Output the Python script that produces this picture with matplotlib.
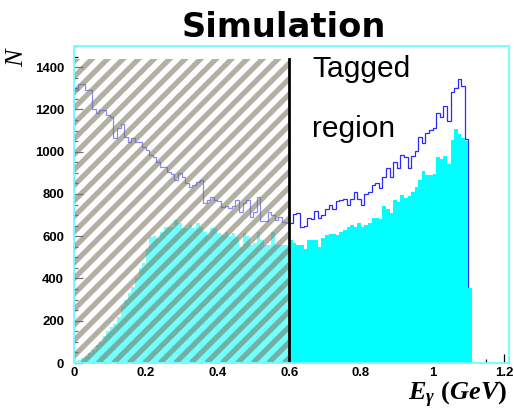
import numpy as np
import matplotlib
matplotlib.use("Agg")
import matplotlib.pyplot as plt
import matplotlib.transforms as mtransforms
from matplotlib.patches import Rectangle
from matplotlib.ticker import MultipleLocator, FuncFormatter

plt.rcParams['mathtext.fontset'] = 'custom'
plt.rcParams['mathtext.it'] = 'Liberation Serif:italic:bold'
plt.rcParams['mathtext.rm'] = 'Liberation Serif:bold'
plt.rcParams['mathtext.bf'] = 'Liberation Serif:bold'

# Todos los fotones (contorno azul), bins de 0.01 GeV de 0 a 1.10
todos = [1291, 1319, 1319, 1294, 1294, 1204, 1181, 1199, 1199, 1173,
         1162, 1063, 1110, 1129, 1070, 1047, 1063, 1047, 1047, 1020,
         1010, 985, 976, 950, 928, 928, 905, 894, 865, 898,
         880, 850, 831, 840, 855, 865, 755, 771, 784, 771,
         765, 740, 745, 734, 745, 771, 716, 755, 771, 692,
         716, 787, 672, 672, 715, 699, 676, 692, 668, 662,
         661, 703, 711, 645, 650, 684, 680, 720, 684, 700,
         730, 747, 730, 768, 770, 775, 750, 775, 810, 775,
         750, 798, 810, 841, 850, 826, 881, 925, 881, 952,
         921, 984, 976, 921, 979, 1004, 1070, 1039, 1086, 1102,
         1110, 1181, 1165, 1215, 1144, 1283, 1299, 1346, 1310, 1058]

# Fotones etiquetados (relleno cian), bins de 0.01 GeV de 0 a 1.11
etiquetados = [8, 15, 25, 35, 47, 60, 85, 100, 130, 150,
               172, 185, 219, 270, 300, 331, 360, 402, 449, 474,
               538, 594, 600, 590, 621, 642, 642, 645, 676, 663,
               637, 637, 653, 640, 663, 642, 620, 605, 637, 637,
               616, 605, 621, 600, 616, 594, 550, 616, 600, 558,
               570, 621, 582, 558, 558, 621, 558, 558, 558, 558,
               582, 569, 558, 558, 540, 582, 582, 582, 550, 590,
               605, 610, 610, 605, 621, 629, 642, 653, 645, 661,
               645, 655, 661, 684, 684, 680, 742, 731, 711, 771,
               763, 794, 779, 790, 810, 834, 865, 909, 889, 889,
               894, 973, 963, 979, 941, 1055, 1105, 1083, 1067, 1050, 353]

ancho_bin = 0.01
corte = 0.6          # limite inferior de la region etiquetada (GeV)
tope_rayado = 1440   # altura de la zona rayada y de la linea negra
x_ticks = [0, 0.2, 0.4, 0.6, 0.8, 1.0, 1.2]
y_ticks = [0, 200, 400, 600, 800, 1000, 1200, 1400]

bordes_todos = np.arange(len(todos) + 1) * ancho_bin
bordes_etiq = np.arange(len(etiquetados) + 1) * ancho_bin

ancho_px, alto_px = 435, 317
fig = plt.figure(figsize=(514 / 90, 410 / 90), dpi=90)
ax = fig.add_axes([74 / 514, 47 / 410, ancho_px / 514, alto_px / 410])

# Histogramas
ax.stairs(todos, bordes_todos, baseline=0, color='#2a2aff', linewidth=1.0, zorder=2)
ax.stairs(etiquetados, bordes_etiq, baseline=0, fill=True, color='#00ffff',
          linewidth=0, zorder=2.5)

# Zona no etiquetada: velo blanco + rayas grises a 45 grados
zona = Rectangle((0, 0), corte, tope_rayado, facecolor=(1, 1, 1, 0.45),
                 edgecolor='none', zorder=3)
ax.add_patch(zona)
en_pixeles = mtransforms.Affine2D().scale(1 / ancho_px, 1 / alto_px) + ax.transAxes
paso = 15.5
for c in np.arange(-alto_px, ancho_px, paso):
    raya, = ax.plot([c, c + alto_px], [0, alto_px], transform=en_pixeles,
                    color=(0.45, 0.44, 0.34, 0.55), linewidth=4.2,
                    solid_capstyle='butt', zorder=3.1)
    raya.set_clip_path(zona)
ax.plot([corte, corte], [0, tope_rayado], color='black', linewidth=2.2, zorder=4)

ax.text(0.665, 1354, 'Tagged', fontsize=24, family='Liberation Sans', va='baseline', zorder=5)
ax.text(0.665, 1070, 'region', fontsize=24, family='Liberation Sans', va='baseline', zorder=5)

# Ejes estilo ROOT
ax.set_xlim(0, 1.213)
ax.set_ylim(0, 1500)
ax.set_xticks(x_ticks)
ax.set_yticks(y_ticks)
ax.xaxis.set_minor_locator(MultipleLocator(0.05))
ax.yaxis.set_minor_locator(MultipleLocator(50))
ax.xaxis.set_major_formatter(FuncFormatter(lambda v, p: f'{v:g}'))
ax.tick_params(which='both', direction='in', color='black', width=1)
ax.tick_params(which='major', length=7)
ax.tick_params(which='minor', length=3.5)
ax.tick_params(axis='y', pad=8)
ax.tick_params(axis='x', pad=3)
for lab in ax.get_xticklabels() + ax.get_yticklabels():
    lab.set_fontfamily('Liberation Sans')
    lab.set_fontweight('bold')
    lab.set_fontsize(10.5)
for s in ax.spines.values():
    s.set_color('#70ffff')
    s.set_linewidth(1.5)
    s.set_zorder(6)

fig.text(284 / 514, 1 - 37 / 410, 'Simulation', ha='center', va='baseline',
         fontsize=27, fontweight='bold')
fig.text(17 / 514, 1 - 58 / 410, 'N', rotation=90, ha='center', va='center',
         family='Liberation Serif', style='italic', fontsize=21)
fig.text(507 / 514, 10 / 410, r'$E_{\gamma}\ (GeV)$', ha='right', va='baseline', fontsize=21)

fig.savefig('out.png', dpi=90)
